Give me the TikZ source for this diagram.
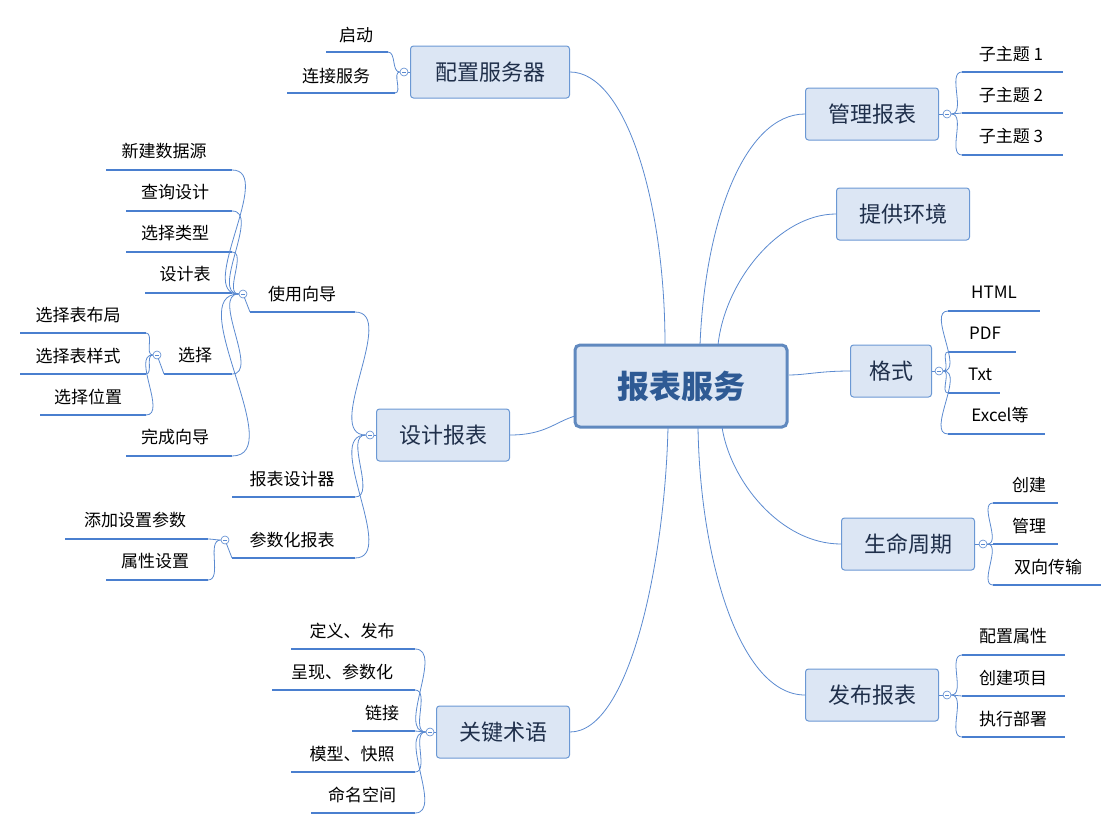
\documentclass[tikz,border=0pt]{standalone}
\usepackage{fontspec}
\setmainfont{Noto Sans CJK SC}
\usetikzlibrary{calc}
\definecolor{lineblue}{HTML}{5B8AD0}
\definecolor{ublue}{HTML}{4A7FCF}
\definecolor{boxfill}{HTML}{DCE6F4}
\definecolor{boxdraw}{HTML}{6B98D4}
\definecolor{centtxt}{HTML}{2E5A94}
\definecolor{toptxt}{HTML}{1F2F4A}
\tikzset{
 central/.style={draw=boxdraw!90!black, line width=3pt, fill=boxfill, rounded corners=5pt, minimum width=212pt, minimum height=82pt, font=\fontsize{32}{36}\selectfont\bfseries, text=centtxt, inner sep=0pt},
 topic/.style={draw=boxdraw, line width=1pt, fill=boxfill, rounded corners=3pt, minimum height=52pt, font=\fontsize{22}{26}\selectfont, text=toptxt, inner sep=0pt},
 subtxt/.style={font=\fontsize{17}{20}\selectfont, text=black, inner sep=0pt},
 uline/.style={draw=ublue, line width=1.8pt},
 branch/.style={draw=lineblue, line width=0.8pt},
 fold/.style={circle, draw=lineblue, fill=white, line width=0.6pt, minimum size=8pt, inner sep=0pt, path picture={\draw[lineblue,line width=0.5pt] ($(path picture bounding box.west)+(2pt,0)$) -- ($(path picture bounding box.east)+(-2pt,0)$);}}
}
\newcommand\subt[6]{%
 \node[subtxt] (#1) at (#3) {#2};
 \coordinate (#1-l) at (#4,#6); \coordinate (#1-r) at (#5,#6);
 \draw[uline] (#1-l) -- (#1-r);}
\newcommand\rc[2]{\draw[branch] (#1) to[out=0,in=180,looseness=0.9] (#2-l);}
\newcommand\lc[2]{\draw[branch] (#1) to[out=180,in=0,looseness=0.9] (#2-r);}
\begin{document}
\begin{tikzpicture}[x=1pt,y=-1pt]
\useasboundingbox (0,0) rectangle (1119,830);
% central
\node[central] (c) at (681,386) {报表服务};
% topics
\node[topic, minimum width=159pt] (t1) at (490,72) {配置服务器};
\node[topic, minimum width=133pt] (t2) at (872,114) {管理报表};
\node[topic, minimum width=133pt] (t3) at (903,214) {提供环境};
\node[topic, minimum width=81pt] (t4) at (891,371) {格式};
\node[topic, minimum width=133pt] (t5) at (908,544) {生命周期};
\node[topic, minimum width=133pt] (t6) at (872,695) {发布报表};
\node[topic, minimum width=133pt] (t7) at (443,435) {设计报表};
\node[topic, minimum width=133pt] (t8) at (503,732) {关键术语};
% main connectors
\coordinate (c1) at (665,345); \coordinate (c2) at (700,345); \coordinate (c3) at (718,345);
\coordinate (c4) at (789,375); \coordinate (c5) at (722,427); \coordinate (c6) at (698,427);
\coordinate (c7) at (575,416); \coordinate (c8) at (668,427);
\draw[branch] (t1.east) .. controls (625,72) and (665,200) .. (c1);
\draw[branch] (t2.west) .. controls (745,114) and (705,220) .. (c2);
\draw[branch] (t3.west) .. controls (780,214) and (725,280) .. (c3);
\draw[branch] (t4.west) .. controls (820,371) and (805,375) .. (c4);
\draw[branch] (t5.west) .. controls (780,544) and (730,480) .. (c5);
\draw[branch] (t6.west) .. controls (740,695) and (700,560) .. (c6);
\draw[branch] (t7.east) .. controls (545,435) and (555,422) .. (c7);
\draw[branch] (t8.east) .. controls (630,732) and (665,560) .. (c8);
% ---- 配置服务器
\subt{a1}{启动}{356,35}{326}{388}{52}
\subt{a2}{连接服务}{336,76}{287}{395}{93}
\draw[branch] (t1.west) -- (404,72);
\node[fold] (f1) at (404,72) {};
\lc{f1.west}{a1}\lc{f1.west}{a2}
% ---- 管理报表
\subt{b1}{子主题 1}{1011,54}{962}{1063}{72}
\subt{b2}{子主题 2}{1011,95}{962}{1063}{113}
\subt{b3}{子主题 3}{1011,136}{962}{1063}{155}
\draw[branch] (t2.east) -- (947,114);
\node[fold] (f2) at (947,114) {};
\rc{f2.east}{b1}\rc{f2.east}{b2}\rc{f2.east}{b3}
% ---- 格式
\subt{d1}{HTML}{994,292}{948}{1040}{311}
\subt{d2}{PDF}{985,333}{948}{1016}{352}
\subt{d3}{Txt}{980,374}{948}{1000}{393}
\subt{d4}{Excel等}{1000,415}{948}{1045}{434}
\draw[branch] (t4.east) -- (939,371);
\node[fold] (f4) at (939,371) {};
\rc{f4.east}{d1}\rc{f4.east}{d2}\rc{f4.east}{d3}\rc{f4.east}{d4}
% ---- 生命周期
\subt{e1}{创建}{1029,485}{993}{1058}{503}
\subt{e2}{管理}{1029,526}{993}{1058}{544}
\subt{e3}{双向传输}{1048,567}{993}{1101}{585}
\draw[branch] (t5.east) -- (983,544);
\node[fold] (f5) at (983,544) {};
\rc{f5.east}{e1}\rc{f5.east}{e2}\rc{f5.east}{e3}
% ---- 发布报表
\subt{g1}{配置属性}{1013,636}{962}{1065}{655}
\subt{g2}{创建项目}{1013,678}{962}{1065}{696}
\subt{g3}{执行部署}{1013,719}{962}{1065}{737}
\draw[branch] (t6.east) -- (947,695);
\node[fold] (f6) at (947,695) {};
\rc{f6.east}{g1}\rc{f6.east}{g2}\rc{f6.east}{g3}
% ---- 设计报表
\subt{h1}{使用向导}{302,294}{250}{355}{312}
\subt{h2}{报表设计器}{292,479}{232}{355}{497}
\subt{h3}{参数化报表}{292,540}{232}{355}{558}
\draw[branch] (t7.west) -- (370,435);
\node[fold] (f7) at (370,435) {};
\lc{f7.west}{h1}\lc{f7.west}{h2}\lc{f7.west}{h3}
% 使用向导 children
\subt{i1}{新建数据源}{164,151}{106}{232}{170}
\subt{i2}{查询设计}{175,192}{126}{232}{211}
\subt{i3}{选择类型}{175,233}{126}{232}{252}
\subt{i4}{设计表}{185,274}{145}{232}{293}
\subt{i5}{选择}{195,355}{164}{232}{374}
\subt{i6}{完成向导}{175,437}{126}{232}{456}
\draw[branch] (h1-l) -- (243,294);
\node[fold] (f8) at (243,294) {};
\lc{f8.west}{i1}\lc{f8.west}{i2}\lc{f8.west}{i3}\lc{f8.west}{i4}\lc{f8.west}{i5}\lc{f8.west}{i6}
% 选择 children
\subt{j1}{选择表布局}{78,315}{20}{146}{333}
\subt{j2}{选择表样式}{78,356}{20}{146}{374}
\subt{j3}{选择位置}{88,397}{40}{146}{415}
\draw[branch] (i5-l) -- (157,355);
\node[fold] (f9) at (157,355) {};
\lc{f9.west}{j1}\lc{f9.west}{j2}\lc{f9.west}{j3}
% 参数化报表 children
\subt{k1}{添加设置参数}{135,520}{65}{208}{539}
\subt{k2}{属性设置}{155,561}{106}{208}{580}
\draw[branch] (h3-l) -- (225,540);
\node[fold] (f10) at (225,540) {};
\lc{f10.west}{k1}\lc{f10.west}{k2}
% ---- 关键术语
\subt{m1}{定义、发布}{352,631}{291}{415}{649}
\subt{m2}{呈现、参数化}{342,672}{272}{415}{690}
\subt{m3}{链接}{382,713}{352}{415}{731}
\subt{m4}{模型、快照}{352,754}{291}{415}{772}
\subt{m5}{命名空间}{362,795}{311}{415}{813}
\draw[branch] (t8.west) -- (430,732);
\node[fold] (f11) at (430,732) {};
\lc{f11.west}{m1}\lc{f11.west}{m2}\lc{f11.west}{m3}\lc{f11.west}{m4}\lc{f11.west}{m5}
\end{tikzpicture}
\end{document}
